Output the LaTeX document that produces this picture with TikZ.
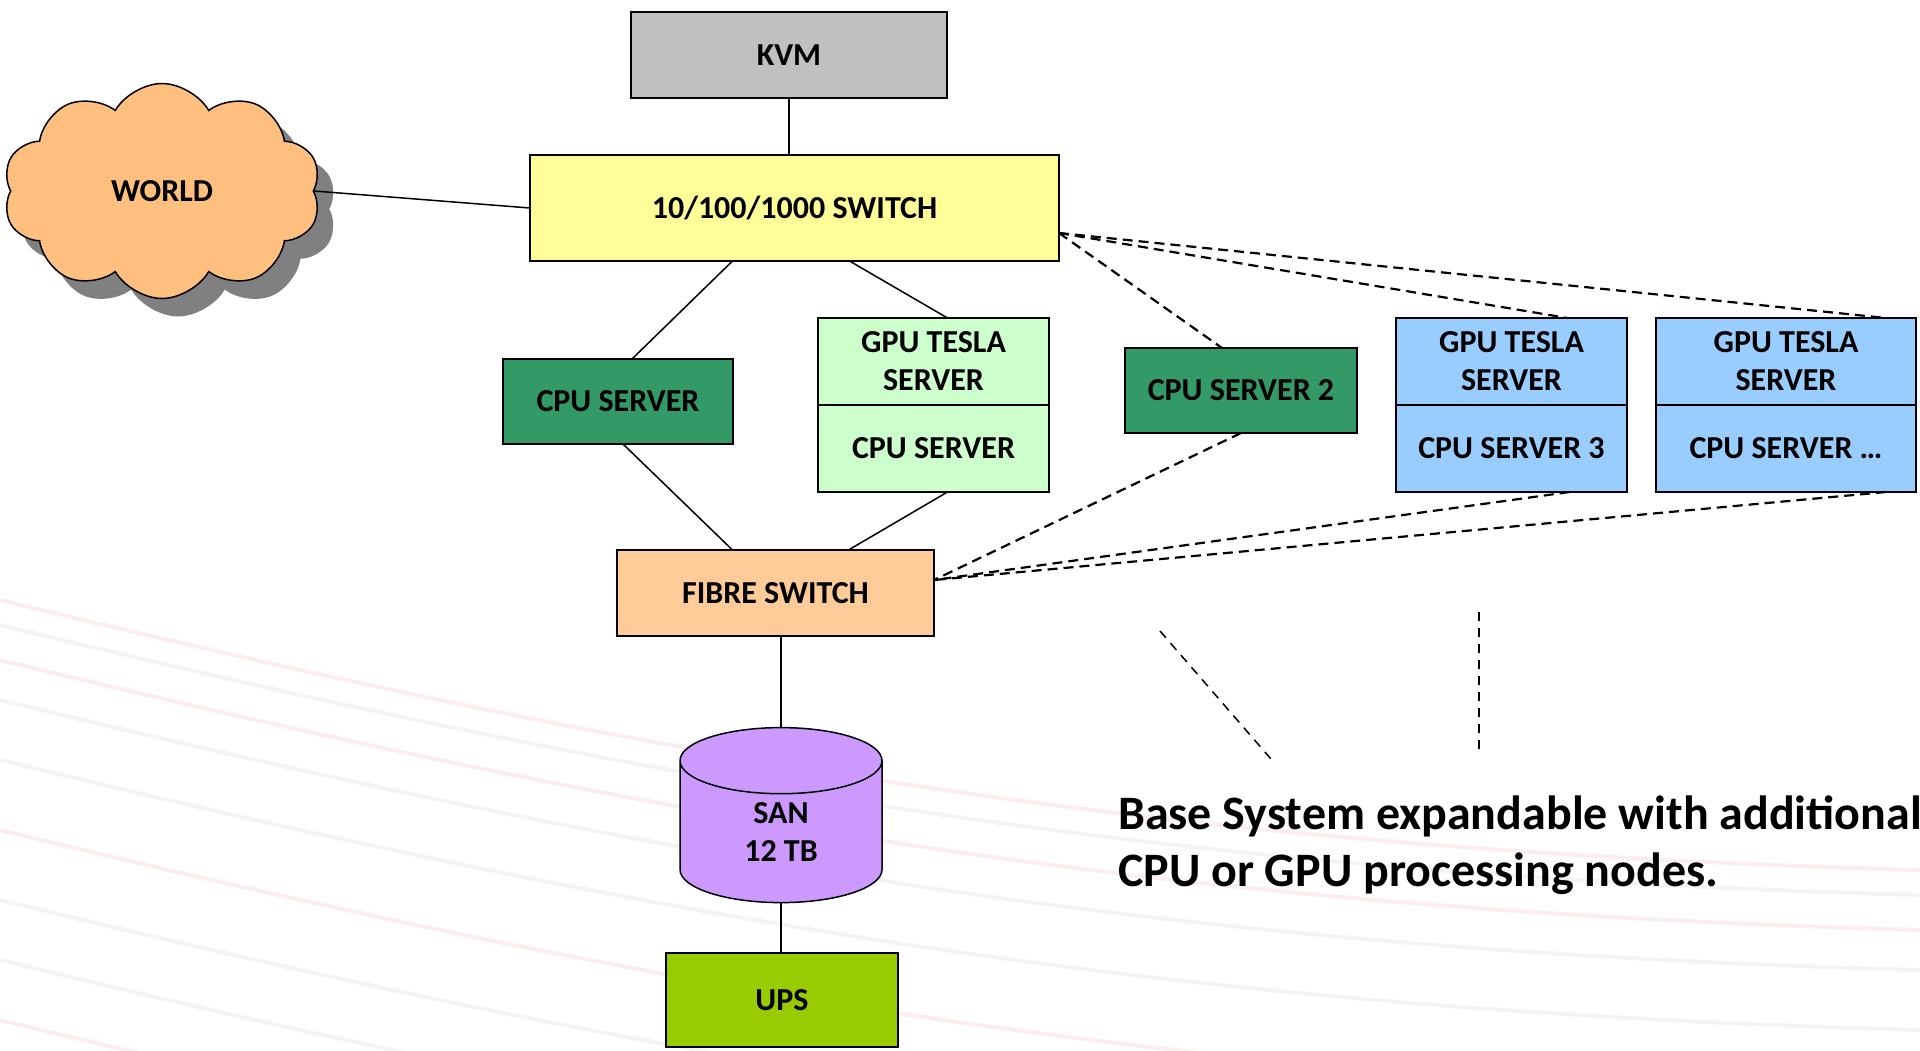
\documentclass[tikz,border=0pt]{standalone}
\usepackage{fontspec}
\setmainfont{Carlito}
\usetikzlibrary{positioning, shapes.geometric, shapes.symbols, shadows}

\definecolor{kvmgray}{HTML}{C0C0C0}
\definecolor{swyellow}{HTML}{FFFF99}
\definecolor{cpugreen}{HTML}{339966}
\definecolor{gpugreen}{HTML}{CCFFCC}
\definecolor{gpublue}{HTML}{99CCFF}
\definecolor{fibreorange}{HTML}{FFCC99}
\definecolor{cloudorange}{HTML}{FFBF7F}
\definecolor{sanviolet}{HTML}{CC99FF}
\definecolor{upsgreen}{HTML}{99CC00}
\definecolor{swirlred}{HTML}{E8A0A0}
\definecolor{swirlgray}{HTML}{C8C0C0}

\begin{document}
\begin{tikzpicture}[x=1pt,y=-1pt,line width=1.5pt,
  box node/.style={rectangle,draw,outer sep=0pt,inner sep=0pt,align=center,font=\fontsize{32}{38}\selectfont\bfseries},
  gpu node/.style={box node,fill=gpublue,minimum width=231pt,minimum height=87pt},
  bg line/.style={line width=4pt,opacity=0.18},
  link/.style={line width=1.5pt},
  more link/.style={line width=2.2pt,dash pattern=on 10pt off 6pt},
  hint link/.style={line width=1.5pt,dash pattern=on 9pt off 7pt}]

  \useasboundingbox (0,0) rectangle (1920,1050);

  % faint swirl in the background
  \begin{scope}
    \clip (0,0) rectangle (1920,1050);
    \foreach \a/\c in {600/swirlred,625/swirlgray,660/swirlred,700/swirlgray,760/swirlgray,830/swirlred,900/swirlgray,960/swirlgray,1020/swirlred}
      \draw[bg line,\c] (0,\a) .. controls (700,\a+170) and (1200,\a+250) .. (1920,\a+270);
  \end{scope}

  \node[box node,fill=kvmgray,minimum width=316pt,minimum height=86pt] (kvm) at (789,55) {KVM};
  \node[box node,fill=swyellow,minimum width=529pt,minimum height=106pt] (sw) at (794.5,208) {10/100/1000 SWITCH};
  \node[cloud,cloud puffs=10,cloud puff arc=120,aspect=1.45,draw,fill=cloudorange,
        minimum width=318pt,minimum height=215pt,inner sep=0pt,
        drop shadow={shadow xshift=16pt,shadow yshift=-18pt,fill=black!50,opacity=1},
        font=\fontsize{32}{38}\selectfont\bfseries] (world) at (162,191) {WORLD};

  \node[box node,fill=cpugreen,minimum width=230pt,minimum height=85pt] (cpu1) at (618,401.5) {CPU SERVER};
  \node[box node,fill=gpugreen,minimum width=231pt,minimum height=87pt] (g1) at (933.5,361.5) {GPU TESLA\\SERVER};
  \node[box node,fill=gpugreen,minimum width=231pt,minimum height=87pt] (g1b) [below=0pt of g1] {CPU SERVER};
  \node[box node,fill=cpugreen,minimum width=232pt,minimum height=85pt] (cpu2) at (1241,390.5) {CPU SERVER 2};
  \node[gpu node] (g2) at (1511.5,361.5) {GPU TESLA\\SERVER};
  \node[gpu node] (g2b) [below=0pt of g2] {CPU SERVER 3};
  \node[gpu node,minimum width=260pt] (g3) at (1786,361.5) {GPU TESLA\\SERVER};
  \node[gpu node,minimum width=260pt] (g3b) [below=0pt of g3] {CPU SERVER \dots};

  \node[box node,fill=fibreorange,minimum width=317pt,minimum height=86pt] (fib) at (775.5,593) {FIBRE SWITCH};
  \node[cylinder,shape border rotate=90,aspect=0.9,draw,fill=sanviolet,align=center,
        minimum width=202pt,minimum height=175pt,inner sep=0pt,
        font=\fontsize{32}{38}\selectfont\bfseries] (san) at (781,832) {SAN\\12 TB};
  \node[box node,fill=upsgreen,minimum width=232pt,minimum height=94pt] (ups) at (782,1000) {UPS};

  \node[anchor=west,align=left,font=\fontsize{48}{57}\selectfont\bfseries] (note) at (1114,845)
    {Base System expandable with additional\\CPU or GPU processing nodes.};

  \coordinate (h1) at (1160,631);
  \coordinate (h2) at (1271,759);
  \coordinate (h3) at (1479,612);
  \coordinate (h4) at (1479,756);

  \path[link]
       (kvm.south) edge (kvm.south |- sw.north)
       (world.east) edge (sw.west)
       ([xshift=-62pt]sw.south) edge ([xshift=14pt]cpu1.north)
       ([xshift=55pt]sw.south) edge ([xshift=14pt]g1.north)
       ([xshift=5pt]cpu1.south) edge ([xshift=-43pt]fib.north)
       ([xshift=14pt]g1b.south) edge ([xshift=73pt]fib.north)
       (san.north |- fib.south) edge (san.north)
       (san.south) edge (san.south |- ups.north);

  \path[more link]
       ([yshift=-25pt]sw.east) edge ([xshift=-19pt]cpu2.north)
       ([yshift=-25pt]sw.east) edge ([xshift=56pt]g2.north)
       ([yshift=-25pt]sw.east) edge ([xshift=100pt]g3.north)
       (cpu2.south) edge ([yshift=13pt]fib.east)
       ([xshift=58pt]g2b.south) edge ([yshift=13pt]fib.east)
       ([xshift=100pt]g3b.south) edge ([yshift=13pt]fib.east);

  \path[hint link]
       (h1) edge (h2)
       (h3) edge (h4);
\end{tikzpicture}
\end{document}
